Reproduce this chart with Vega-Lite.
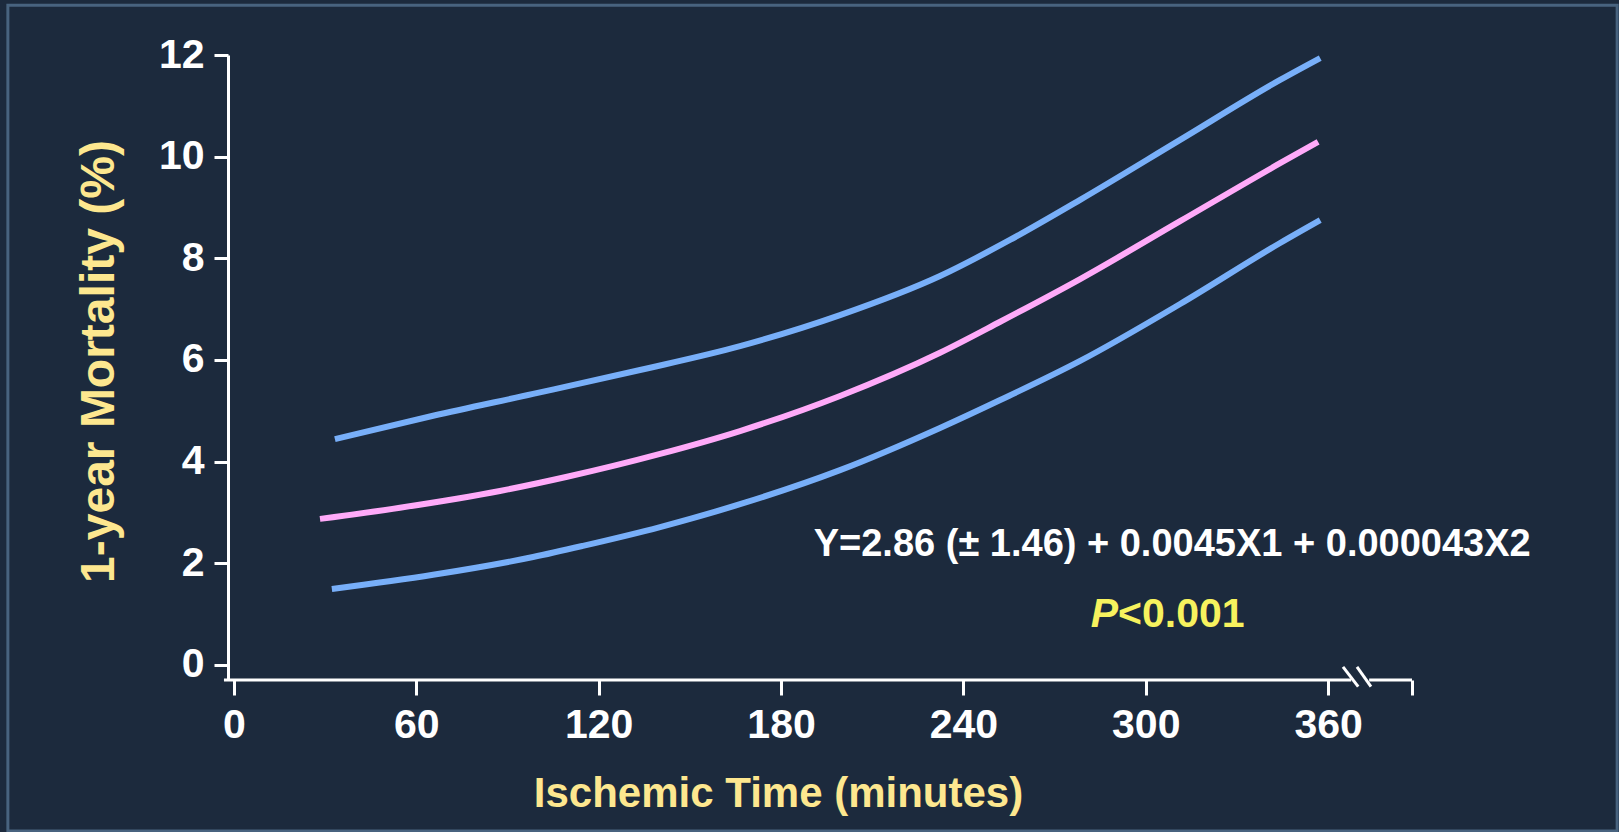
{
  "$schema": "https://vega.github.io/schema/vega-lite/v6.json",
  "autosize": "none",
  "width": 1184,
  "height": 625,
  "padding": {"left": 228, "top": 55, "right": 207, "bottom": 152},
  "background": "#1c2a3d",
  "config": {
    "view": {"stroke": null},
    "font": "Liberation Sans",
    "axis": {
      "grid": false,
      "labelFont": "Liberation Sans",
      "labelFontSize": 41,
      "labelFontWeight": "bold",
      "labelColor": "#ffffff",
      "tickColor": "#ffffff",
      "tickWidth": 3,
      "domainColor": "#ffffff",
      "domainWidth": 3,
      "titleFont": "Liberation Sans",
      "titleFontWeight": "bold",
      "titleColor": "#fde78f"
    }
  },
  "datasets": {
    "curves": [
      {"s": "upper", "x": 33.2, "y": 4.44},
      {"s": "upper", "x": 65.5, "y": 4.90},
      {"s": "upper", "x": 98.4, "y": 5.33},
      {"s": "upper", "x": 133.6, "y": 5.80},
      {"s": "upper", "x": 166.5, "y": 6.27},
      {"s": "upper", "x": 199.4, "y": 6.88},
      {"s": "upper", "x": 232.3, "y": 7.65},
      {"s": "upper", "x": 255.3, "y": 8.36},
      {"s": "upper", "x": 278.4, "y": 9.15},
      {"s": "upper", "x": 311.3, "y": 10.33},
      {"s": "upper", "x": 344.2, "y": 11.51},
      {"s": "upper", "x": 357.4, "y": 11.94},
      {"s": "estimate", "x": 28.3, "y": 2.87},
      {"s": "estimate", "x": 54.6, "y": 3.09},
      {"s": "estimate", "x": 87.5, "y": 3.42},
      {"s": "estimate", "x": 109.6, "y": 3.70},
      {"s": "estimate", "x": 140.2, "y": 4.15},
      {"s": "estimate", "x": 166.5, "y": 4.60},
      {"s": "estimate", "x": 199.4, "y": 5.29},
      {"s": "estimate", "x": 232.3, "y": 6.14},
      {"s": "estimate", "x": 252.1, "y": 6.75},
      {"s": "estimate", "x": 278.4, "y": 7.59},
      {"s": "estimate", "x": 311.3, "y": 8.73},
      {"s": "estimate", "x": 344.2, "y": 9.87},
      {"s": "estimate", "x": 356.7, "y": 10.29},
      {"s": "lower", "x": 32.2, "y": 1.49},
      {"s": "lower", "x": 65.5, "y": 1.77},
      {"s": "lower", "x": 98.4, "y": 2.12},
      {"s": "lower", "x": 114.8, "y": 2.34},
      {"s": "lower", "x": 140.2, "y": 2.71},
      {"s": "lower", "x": 166.5, "y": 3.16},
      {"s": "lower", "x": 199.4, "y": 3.83},
      {"s": "lower", "x": 232.3, "y": 4.66},
      {"s": "lower", "x": 252.1, "y": 5.21},
      {"s": "lower", "x": 278.4, "y": 5.98},
      {"s": "lower", "x": 311.3, "y": 7.10},
      {"s": "lower", "x": 344.2, "y": 8.30},
      {"s": "lower", "x": 357.4, "y": 8.75}
    ],
    "axisline": [
      {"x": -3.3, "x2": 367.6, "y": -0.3, "y2": -0.3},
      {"x": 373.5, "x2": 387.6, "y": -0.3, "y2": -0.3},
      {"x": 364.9, "x2": 369.9, "y": -0.04, "y2": -0.43},
      {"x": 369.5, "x2": 374.1, "y": -0.04, "y2": -0.43}
    ],
    "frame": [
      {"x": -74.4, "x2": 455.1, "y": 12.98, "y2": -3.27}
    ],
    "equation": [
      {"x": 308.7, "y": 2.36, "label": "Y=2.86 (± 1.46) + 0.0045X1 + 0.000043X2"}
    ],
    "pletter": [
      {"x": 290.9, "y": 0.98, "label": "P"}
    ],
    "pvalue": [
      {"x": 290.9, "y": 0.98, "label": "<0.001"}
    ]
  },
  "encoding": {
    "x": {
      "field": "x",
      "type": "quantitative",
      "scale": {"domain": [-1.97, 387.6], "nice": false, "zero": false},
      "axis": {
        "values": [0, 60, 120, 180, 240, 300, 360, 387.6],
        "labelExpr": "datum.value > 370 ? '' : datum.label",
        "domain": false,
        "tickSize": 15,
        "labelPadding": 10,
        "title": "Ischemic Time (minutes)",
        "titleFontSize": 42,
        "titleX": 550,
        "titleY": 126,
        "titleBaseline": "alphabetic",
        "titleAlign": "center"
      }
    },
    "y": {
      "field": "y",
      "type": "quantitative",
      "scale": {"domain": [-0.3, 12], "nice": false, "zero": false},
      "axis": {
        "values": [0, 2, 4, 6, 8, 10, 12],
        "tickSize": 14,
        "labelPadding": 10,
        "title": "1-year Mortality (%)",
        "titleFontSize": 48,
        "titleAngle": -90,
        "titleX": -115,
        "titleY": 306,
        "titleBaseline": "alphabetic",
        "titleAlign": "center"
      }
    }
  },
  "layer": [
    {
      "data": {"name": "frame"},
      "mark": {"type": "rect", "fill": null, "stroke": "#48637f", "strokeWidth": 3},
      "encoding": {
        "x2": {"field": "x2"},
        "y2": {"field": "y2"}
      }
    },
    {
      "data": {"name": "curves"},
      "mark": {"type": "line", "strokeWidth": 6, "interpolate": "monotone"},
      "encoding": {
        "color": {
          "field": "s",
          "type": "nominal",
          "scale": {"domain": ["upper", "estimate", "lower"], "range": ["#78aff9", "#ffaaf9", "#78aff9"]},
          "legend": null
        },
        "detail": {"field": "s"}
      }
    },
    {
      "data": {"name": "axisline"},
      "mark": {"type": "rule", "color": "#ffffff", "strokeWidth": 3},
      "encoding": {
        "x2": {"field": "x2"},
        "y2": {"field": "y2"}
      }
    },
    {
      "data": {"name": "equation"},
      "mark": {"type": "text", "color": "#ffffff", "fontSize": 38, "fontWeight": "bold", "align": "center", "baseline": "middle"},
      "encoding": {"text": {"field": "label"}}
    },
    {
      "data": {"name": "pletter"},
      "mark": {"type": "text", "color": "#f7f25e", "fontSize": 41, "fontWeight": "bold", "fontStyle": "italic", "align": "right", "baseline": "middle"},
      "encoding": {"text": {"field": "label"}}
    },
    {
      "data": {"name": "pvalue"},
      "mark": {"type": "text", "color": "#f7f25e", "fontSize": 41, "fontWeight": "bold", "align": "left", "baseline": "middle"},
      "encoding": {"text": {"field": "label"}}
    }
  ]
}
